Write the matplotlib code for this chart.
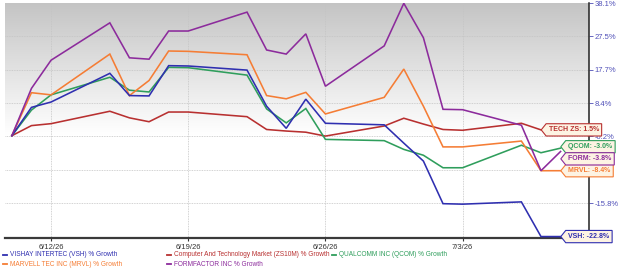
import numpy as np
import matplotlib
matplotlib.use("Agg")
import matplotlib.pyplot as plt
import matplotlib.dates as mdates
from matplotlib.path import Path
from matplotlib.lines import Line2D

plt.rcParams['font.family'] = ['Liberation Sans', 'DejaVu Sans']

# ---------------- data ----------------
dates = ["2026-06-10", "2026-06-11", "2026-06-12", "2026-06-15", "2026-06-16",
         "2026-06-17", "2026-06-18", "2026-06-19", "2026-06-22", "2026-06-23",
         "2026-06-24", "2026-06-25", "2026-06-26", "2026-06-29", "2026-06-30",
         "2026-07-01", "2026-07-02", "2026-07-03", "2026-07-06", "2026-07-07",
         "2026-07-08"]

vsh = [0, 7.3, 8.7, 16.7, 10.5, 10.4, 18.9, 18.8, 17.6, 7.6, 1.9, 9.5, 3.2, 2.8,
       -1.8, -6.1, -15.9, -16.0, -15.5, -22.8, -22.8]
tech = [0, 2.6, 3.1, 6.3, 4.6, 3.6, 6.1, 6.1, 4.9, 1.6, 1.2, 0.9, -0.1, 2.5,
        4.5, 3.0, 1.6, 1.4, 3.2, 1.5]
qcom = [0, 6.6, 10.7, 15.6, 12.0, 11.5, 18.4, 18.3, 16.2, 6.9, 3.3, 7.0, -0.9, -1.2,
        -3.3, -4.7, -7.7, -7.7, -2.3, -4.1, -3.0]
mrvl = [0, 11.3, 10.7, 22.3, 10.5, 14.7, 23.2, 23.1, 22.1, 10.5, 9.6, 11.4, 5.6, 10.0,
        17.9, 7.6, -2.7, -2.7, -1.3, -8.4, -8.4]
form = [0, 12.5, 20.5, 31.8, 21.2, 20.8, 29.2, 29.2, 35.2, 23.5, 22.3, 28.3, 13.1, 24.7,
        38.0, 27.1, 6.8, 6.7, 2.7, -8.4, -3.8]

series_names = ["VISHAY INTERTEC (VSH) % Growth",
                "Computer And Technology Market (ZS10M) % Growth",
                "QUALCOMM INC (QCOM) % Growth",
                "MARVELL TEC INC (MRVL) % Growth",
                "FORMFACTOR INC % Growth"]
tag_names = ["VSH", "TECH ZS", "QCOM", "MRVL", "FORM"]
colors = ["#2f2fb0", "#b83030", "#2f9e5c", "#f57d35", "#8c2b9c"]

ytick_vals = [-22.8, -15.8, -8.2, -0.2, 8.4, 17.7, 27.5, 38.1]
ytick_labels = ["", "-15.8%", "", "-0.2%", "8.4%", "17.7%", "27.5%", "38.1%"]
xtick_dates = ["2026-06-12", "2026-06-19", "2026-06-26", "2026-07-03"]
xtick_labels = ["6/12/26", "6/19/26", "6/26/26", "7/3/26"]

# ---------------- scale ----------------
tv = np.array(ytick_vals, float)
tp = np.arange(len(tv), dtype=float)
s0 = (tp[1] - tp[0]) / (tv[1] - tv[0])
s1 = (tp[-1] - tp[-2]) / (tv[-1] - tv[-2])
ev = np.concatenate([[tv[0] - 1000], tv, [tv[-1] + 1000]])
ep = np.concatenate([[tp[0] - 1000 * s0], tp, [tp[-1] + 1000 * s1]])

def fwd(v):
    return np.interp(np.asarray(v, float), ev, ep)

def inv(p):
    return np.interp(np.asarray(p, float), ep, ev)

# ---------------- figure ----------------
fig = plt.figure(figsize=(6.19, 2.69), dpi=100)
ax = fig.add_axes([5 / 619, 1 - 238 / 269, 584 / 619, 235 / 269])
ax.set_yscale('function', functions=(fwd, inv))

# gradient background (gray at top fading to white)
yy = np.linspace(0, 1, 256)[:, None]  # 0 top -> 1 bottom
g = np.clip(0.77 + 0.23 * (yy / 0.56), 0, 1)
grad = np.dstack([g, g, g])
ax.imshow(grad, extent=[0, 1, 0, 1], transform=ax.transAxes, aspect='auto',
          zorder=0, interpolation='bilinear')

dt = np.array(dates, dtype='datetime64[D]').astype('datetime64[ms]').astype(object)
data = [vsh, tech, qcom, mrvl, form]
draw_order = [1, 2, 3, 0, 4]
for i in draw_order:
    vals = data[i]
    ax.plot(dt[:len(vals)], vals, color=colors[i], lw=1.15, zorder=3,
            solid_joinstyle='miter')

x0 = mdates.date2num(np.datetime64("2026-06-10")) - 0.35
x1 = mdates.date2num(np.datetime64("2026-07-09")) + 0.45
ax.set_xlim(x0, x1)
ax.set_ylim(-23.1, 38.1)

ax.set_yticks(ytick_vals)
ax.set_yticklabels(ytick_labels)
ax.yaxis.tick_right()
ax.tick_params(axis='y', colors='#5050b8', labelsize=5.5, length=3, width=0.6, pad=1)
xt = [mdates.date2num(np.datetime64(d)) for d in xtick_dates]
ax.set_xticks(xt)
ax.set_xticklabels(xtick_labels)
ax.tick_params(axis='x', colors='#333333', labelsize=5.5, length=2.5, width=0.8, pad=2)

ax.grid(True, color='#c4c4c4', lw=0.6, ls=(0, (1, 1)), zorder=1)
ax.set_axisbelow(True)
for s in ['left', 'top']:
    ax.spines[s].set_visible(False)
ax.spines['bottom'].set_color('#3a3a3a')
ax.spines['bottom'].set_linewidth(1.6)
ax.spines['right'].set_color('#222222')
ax.spines['right'].set_linewidth(1.1)

# tag-shaped label boxes
def tag_box(x, y, w, h, mutation_size):
    pad = 0.38 * mutation_size
    x -= pad; y -= pad; w += 2 * pad; h += 2 * pad
    tip = h * 0.4
    verts = [(x - tip, y + h / 2), (x, y + h), (x + w, y + h), (x + w, y), (x, y),
             (x - tip, y + h / 2)]
    codes = [Path.MOVETO] + [Path.LINETO] * 4 + [Path.CLOSEPOLY]
    return Path(verts, codes)

label_dy = [0, 0, 1.0, 0.0, -5.3]   # point offsets to avoid overlap
for i in range(5):
    vals = data[i]
    xd = dt[len(vals) - 1]
    yv = vals[-1]
    txt = f"{tag_names[i]}: {yv:.1f}%"
    ax.annotate(txt, xy=(xd, yv), xytext=(5.6, label_dy[i]), textcoords='offset points',
                ha='left', va='center', fontsize=5.0, fontweight='bold', color=colors[i],
                annotation_clip=False, zorder=6,
                bbox=dict(boxstyle=tag_box, fc='#fdf3e3', ec=colors[i], lw=0.8))

# legend
leg_pos = [(3, 255), (167, 255), (332, 255), (3, 264), (167, 264)]
for i, (px, py) in enumerate(leg_pos):
    fx, fy = px / 619, 1 - py / 269
    fig.add_artist(Line2D([fx, fx + 4 / 619], [fy, fy], transform=fig.transFigure,
                          color=colors[i], lw=1.3))
    fig.text(fx + 7 / 619, fy, series_names[i], color=colors[i], fontsize=4.7,
             va='center', ha='left')

fig.savefig("out.png", dpi=100)
